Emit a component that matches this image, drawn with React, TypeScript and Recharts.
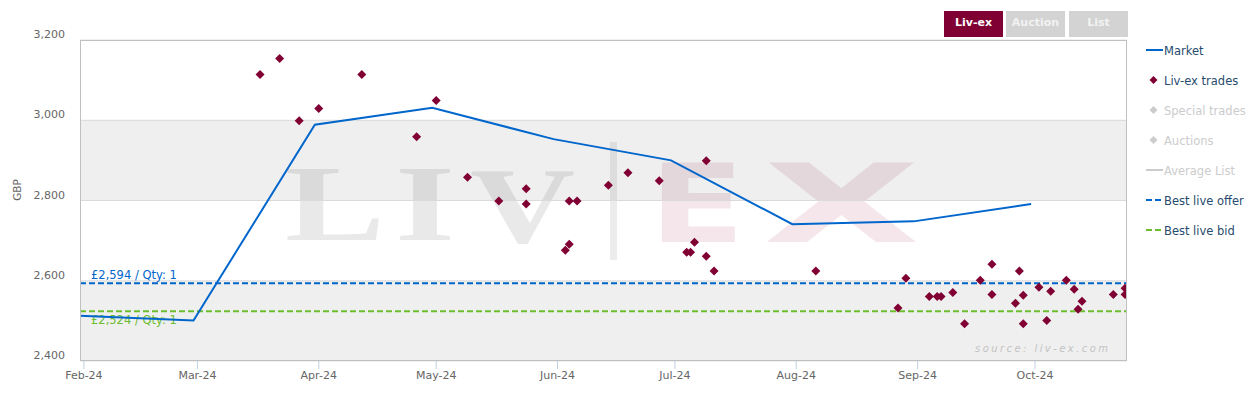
import React from "react";
import {
  CartesianGrid,
  ComposedChart,
  Line,
  ReferenceArea,
  ReferenceLine,
  Scatter,
  XAxis,
  YAxis,
} from "recharts";

// market price, month-end points
const marketDates = [
  "2024-01-31", "2024-02-29", "2024-03-31", "2024-04-30", "2024-05-31",
  "2024-06-30", "2024-07-31", "2024-08-31", "2024-09-30",
];
const marketPrices = [2513, 2501, 2989, 3031, 2953, 2900, 2741, 2748, 2791];

// individual Liv-ex trades
const tradeDates = [
  "2024-03-17", "2024-03-22", "2024-03-27", "2024-04-01", "2024-04-12", "2024-04-26",
  "2024-05-01", "2024-05-09", "2024-05-17", "2024-05-24", "2024-05-24", "2024-06-04",
  "2024-06-06", "2024-06-04", "2024-06-03", "2024-06-14", "2024-06-19", "2024-06-27",
  "2024-07-09", "2024-07-04", "2024-07-05", "2024-07-06", "2024-07-09", "2024-07-11",
  "2024-08-06", "2024-08-27", "2024-08-29", "2024-09-04", "2024-09-06", "2024-09-07",
  "2024-09-10", "2024-09-13", "2024-09-17", "2024-09-20", "2024-09-20", "2024-09-26",
  "2024-09-27", "2024-09-28", "2024-09-28", "2024-10-02", "2024-10-04", "2024-10-05",
  "2024-10-09", "2024-10-11", "2024-10-12", "2024-10-13", "2024-10-21", "2024-10-24",
  "2024-10-24",
];
const tradePrices = [
  3114, 3154, 2999, 3029, 3114, 2959,
  3049, 2858, 2799, 2829, 2791, 2799,
  2799, 2691, 2676, 2838, 2869, 2849,
  2899, 2671, 2671, 2696, 2661, 2624,
  2624, 2532, 2606, 2561, 2561, 2561,
  2571, 2493, 2601, 2641, 2566, 2544,
  2624, 2564, 2493, 2584, 2501, 2574,
  2601, 2579, 2529, 2549, 2566, 2581,
  2566,
];

const bestOffer = 2594;
const bestBid = 2524;
const offerQty = 1;
const bidQty = 1;

const monthTickDates = [
  "2024-02-01", "2024-03-01", "2024-04-01", "2024-05-01", "2024-06-01",
  "2024-07-01", "2024-08-01", "2024-09-01", "2024-10-01",
];
const monthNames = ["Jan", "Feb", "Mar", "Apr", "May", "Jun", "Jul", "Aug", "Sep", "Oct", "Nov", "Dec"];
const yTicks = [2400, 2600, 2800, 3000, 3200];
const xStart = "2024-01-31";
const xEnd = "2024-10-24T12:00:00";

const ts = (s: string) => Date.parse(s.length > 10 ? s + "Z" : s + "T00:00:00Z");

const marketData = marketDates.map((d, i) => ({ t: ts(d), price: marketPrices[i] }));
const tradeData = tradeDates.map((d, i) => ({ t: ts(d), price: tradePrices[i] }));
const monthTicks = monthTickDates.map(ts);

const FONT = "'DejaVu Sans', Verdana, sans-serif";
const BLUE = "#0066cc";
const GREEN = "#6cbd2f";
const MAROON = "#800033";
const LEGEND_TEXT = "#274b6d";
const HIDDEN = "#cccccc";

function fmtMonth(v: number) {
  const d = new Date(v);
  return `${monthNames[d.getUTCMonth()]}-${String(d.getUTCFullYear()).slice(2)}`;
}

function XTick(props: any) {
  const { x, y, payload } = props;
  return (
    <text x={x} y={y + 8} textAnchor="middle" fontSize={11} fontFamily={FONT} fill="#666">
      {fmtMonth(payload.value)}
    </text>
  );
}

function YTick(props: any) {
  const { y, payload } = props;
  return (
    <text x={65} y={y - 2} textAnchor="end" fontSize={11} fontFamily={FONT} fill="#666">
      {payload.value.toLocaleString("en-GB")}
    </text>
  );
}

function Diamond(props: any) {
  const { cx, cy } = props;
  if (cx == null || cy == null) return null;
  const r = 4.5;
  return <path d={`M${cx},${cy - r}L${cx + r},${cy}L${cx},${cy + r}L${cx - r},${cy}Z`} fill={MAROON} />;
}

const legendItems = [
  { name: "Market", kind: "line", color: BLUE, on: true },
  { name: "Liv-ex trades", kind: "diamond", color: MAROON, on: true },
  { name: "Special trades", kind: "diamond", color: HIDDEN, on: false },
  { name: "Auctions", kind: "diamond", color: HIDDEN, on: false },
  { name: "Average List", kind: "line", color: HIDDEN, on: false },
  { name: "Best live offer", kind: "dash", color: BLUE, on: true },
  { name: "Best live bid", kind: "dash", color: GREEN, on: true },
];

const buttons = [
  { label: "Liv-ex", x: 944, active: true },
  { label: "Auction", x: 1006, active: false },
  { label: "List", x: 1069, active: false },
];

export default function App() {
  return (
    <div style={{ position: "absolute", left: 0, top: 0, width: 1252, height: 394, background: "#fff", fontFamily: FONT }}>
      {/* watermark sits under the chart svg */}
      <svg width={1252} height={394} style={{ position: "absolute", left: 0, top: 0 }}>
        <g fontFamily="'Liberation Serif', serif" fontWeight="bold" fontSize={108} fill="#e9e9e9">
          <text x={285} y={240} textLength={100} lengthAdjust="spacingAndGlyphs">L</text>
          <text x={395} y={240} textLength={60} lengthAdjust="spacingAndGlyphs">I</text>
          <text x={470} y={242} textLength={105} lengthAdjust="spacingAndGlyphs">V</text>
        </g>
        <rect x={610} y={142} width={7} height={118} fill="#ececec" />
        <g fontFamily={FONT} fontWeight="bold" fontSize={108} fill="#f4e6ea">
          <text x={649} y={242} textLength={96} lengthAdjust="spacingAndGlyphs">E</text>
          <text x={763} y={242} textLength={157} lengthAdjust="spacingAndGlyphs">X</text>
        </g>
      </svg>

      <div style={{ position: "absolute", left: 0, top: 0 }}>
        <ComposedChart width={1252} height={394} margin={{ top: 40, right: 125, bottom: 8, left: 20 }}>
          <ReferenceArea y1={2400} y2={2600} fill="#000" fillOpacity={0.063} stroke="none" />
          <ReferenceArea y1={2800} y2={3000} fill="#000" fillOpacity={0.063} stroke="none" />
          <CartesianGrid vertical={false} stroke="#e2e2e2" />
          <XAxis
            type="number"
            dataKey="t"
            domain={[ts(xStart), ts(xEnd)]}
            ticks={monthTicks}
            allowDataOverflow
            height={25}
            axisLine={false}
            tickLine={{ stroke: "#C0D0E0" }}
            tickSize={8}
            tick={<XTick />}
          />
          <YAxis
            type="number"
            dataKey="price"
            domain={[2400, 3200]}
            ticks={yTicks}
            width={60}
            axisLine={false}
            tickLine={false}
            tick={<YTick />}
            label={(p: any) => (
              <text
                x={17}
                y={190}
                transform="rotate(-90, 17, 190)"
                textAnchor="middle"
                dominantBaseline="central"
                fontSize={10.5}
                fontFamily={FONT}
                fill="#666"
              >
                GBP
              </text>
            )}
          />
          <ReferenceLine
            y={bestOffer}
            stroke={BLUE}
            strokeWidth={2}
            strokeDasharray="6 3"
            label={(p: any) => (
              <text x={p.viewBox.x + 11} y={p.viewBox.y - 4} fontSize={11.5} fontFamily={FONT} fill={BLUE}>
                {`£${bestOffer.toLocaleString("en-GB")} / Qty: ${offerQty}`}
              </text>
            )}
          />
          <ReferenceLine
            y={bestBid}
            stroke={GREEN}
            strokeWidth={2}
            strokeDasharray="6 3"
            label={(p: any) => (
              <text x={p.viewBox.x + 11} y={p.viewBox.y + 13} fontSize={11.5} fontFamily={FONT} fill={GREEN}>
                {`£${bestBid.toLocaleString("en-GB")} / Qty: ${bidQty}`}
              </text>
            )}
          />
          <Line
            data={marketData}
            dataKey="price"
            type="linear"
            stroke={BLUE}
            strokeWidth={2}
            dot={false}
            activeDot={false}
            isAnimationActive={false}
          />
          <Scatter data={tradeData} dataKey="price" fill={MAROON} shape={<Diamond />} isAnimationActive={false} />
        </ComposedChart>
      </div>

      {/* frame, buttons, legend, source note */}
      <svg width={1252} height={394} style={{ position: "absolute", left: 0, top: 0, pointerEvents: "none" }}>
        <rect x={80.5} y={40.5} width={1046} height={320} fill="none" stroke="#c0c0c0" />
        <text
          x={975}
          y={352}
          textLength={133}
          lengthAdjust="spacing"
          fontSize={10}
          fontStyle="italic"
          fontFamily={FONT}
          fill="#c4c4c4"
        >
          source: liv-ex.com
        </text>

        {buttons.map((b) => (
          <g key={b.label}>
            <rect x={b.x} y={11} width={59} height={26} fill={b.active ? MAROON : "#d3d3d3"} />
            <text
              x={b.x + 29.5}
              y={26}
              textAnchor="middle"
              fontSize={11}
              fontWeight="bold"
              fontFamily={FONT}
              fill={b.active ? "#fff" : "#f2f2f2"}
            >
              {b.label}
            </text>
          </g>
        ))}

        {legendItems.map((it, i) => {
          const cy = 50 + i * 30;
          return (
            <g key={it.name}>
              {it.kind === "line" && <line x1={1146} x2={1163} y1={cy} y2={cy} stroke={it.color} strokeWidth={2} />}
              {it.kind === "dash" && (
                <line x1={1146} x2={1163} y1={cy} y2={cy} stroke={it.color} strokeWidth={2} strokeDasharray="6 3" />
              )}
              {it.kind === "diamond" && (
                <path d={`M1153.5,${cy - 4}L1157.5,${cy}L1153.5,${cy + 4}L1149.5,${cy}Z`} fill={it.color} />
              )}
              <text x={1164} y={cy + 4.5} fontSize={11.5} fontFamily={FONT} fill={it.on ? LEGEND_TEXT : HIDDEN}>
                {it.name}
              </text>
            </g>
          );
        })}
      </svg>
    </div>
  );
}
